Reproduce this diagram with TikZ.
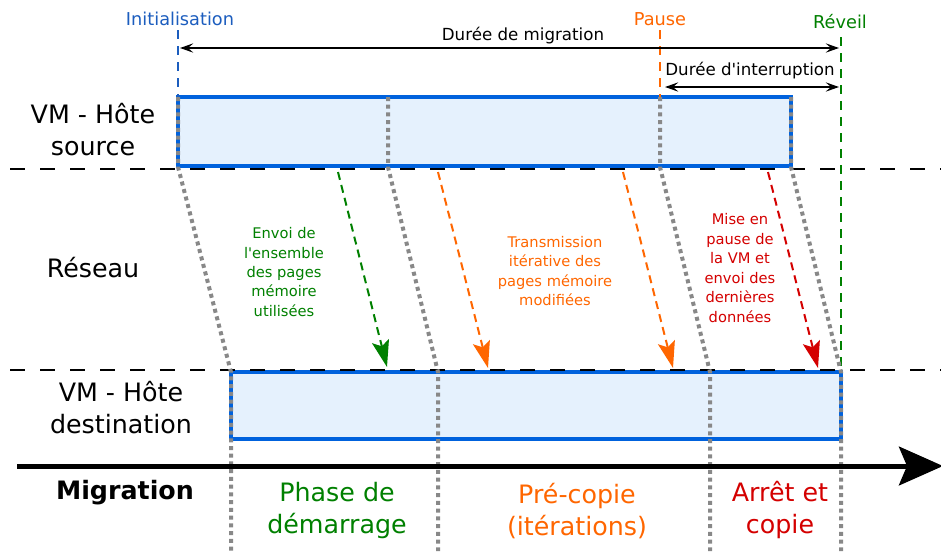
\documentclass[tikz,border=0pt]{standalone}
\usepackage{fontspec}
\setmainfont{DejaVu Sans}[Ligatures=TeXOff]
\usepackage{xcolor}
\usepackage{tikz}
\usetikzlibrary{arrows.meta,positioning,calc}
\definecolor{vmblue}{HTML}{0062DD}
\definecolor{vmfill}{HTML}{E5F1FD}
\definecolor{initblue}{HTML}{1C5DBE}
\definecolor{pauseorange}{HTML}{FF6600}
\definecolor{wakegreen}{HTML}{008000}
\definecolor{stopred}{HTML}{D40000}
\definecolor{phasegray}{HTML}{888888}

\begin{document}
\begin{tikzpicture}[x=0.75pt,y=-0.75pt,
	vm/.style={draw=vmblue,line width=2.5pt,fill=vmfill},
	sep/.style={line width=2.2pt,dash pattern=on 11pt off 11.5pt},
	phase/.style={phasegray,line width=3pt,dash pattern=on 3pt off 2.8pt},
	event/.style={line width=2.1pt,dash pattern=on 7pt off 5pt},
	send/.style={line width=1.5pt,dash pattern=on 6pt off 4pt,-{Stealth[length=20pt,width=13pt,inset=4pt]}},
	dur/.style={line width=1.2pt,{Stealth[length=10pt,width=7pt,inset=4pt]}-{Stealth[length=10pt,width=7pt,inset=4pt]}},
	big/.style={font=\fontsize{19}{24}\selectfont,align=center},
	lab/.style={font=\fontsize{12.5}{15}\selectfont},
	info/.style={font=\fontsize{11}{14.6}\selectfont,align=center}]
	\useasboundingbox (0,0) rectangle (941,551);

	% hotes
	\draw[vm] (178,97) rectangle (791,166);
	\draw[vm] (231,372) rectangle (841,439);
	\draw[sep] (10,169)--(941,169);
	\draw[sep] (10,370)--(941,370);

	% evenements
	\node[lab,initblue,font=\fontsize{13.3}{15}\selectfont] (init) at (180,19) {Initialisation};
	\node[lab,pauseorange,font=\fontsize{13.3}{15}\selectfont] (pause) at (660,19) {Pause};
	\node[lab,wakegreen,font=\fontsize{13.3}{15}\selectfont] (wake) at (840,22) {Réveil};
	\coordinate (i0) at (178,30); \coordinate (i1) at (178,97);
	\coordinate (p0) at (660,30); \coordinate (p1) at (660,97);
	\coordinate (w0) at (841,37); \coordinate (w1) at (841,370);
	\draw[event,initblue] (i0)--(i1);
	\draw[event,pauseorange] (p0)--(p1);
	\draw[event,wakegreen] (w0)--(w1);

	% durees
	\coordinate (m0) at (180,48); \coordinate (m1) at (839,48);
	\coordinate (d0) at (665,87); \coordinate (d1) at (839,87);
	\draw[dur] (m0)--(m1);
	\draw[dur] (d0)--(d1);
	\node[lab] (mig) at (523,36) {Durée de migration};
	\node[lab] (intr) at (750,71) {Durée d'interruption};

	% phases
	\draw[phase] (178,97)--(178,167)--(231,372)--(231,551);
	\draw[phase] (388,97)--(388,167)--(438,372)--(438,551);
	\draw[phase] (660,97)--(660,167)--(710,372)--(710,551);
	\draw[phase] (791,97)--(791,167)--(841,372)--(841,551);

	% envois
	\coordinate (g0) at (338,172); \coordinate (g1) at (387,367);
	\coordinate (o0) at (438,172); \coordinate (o1) at (488,368);
	\coordinate (q0) at (623,172); \coordinate (q1) at (673,368);
	\coordinate (r0) at (768,172); \coordinate (r1) at (818,368);
	\draw[send,wakegreen] (g0)--(g1);
	\draw[send,pauseorange] (o0)--(o1);
	\draw[send,pauseorange] (q0)--(q1);
	\draw[send,stopred] (r0)--(r1);
	\node[info,wakegreen] (envoi) at (284,272) {Envoi de\\l'ensemble\\des pages\\mémoire\\utilisées};
	\node[info,pauseorange] (trans) at (555,271) {Transmission\\itérative des\\pages mémoire\\modifiées};
	\node[info,stopred] (mise) at (740,268) {Mise en\\pause de\\la VM et\\envoi des\\dernières\\données};

	% legendes
	\node[big] (src) at (93,130) {VM - Hôte\\source};
	\node[big] (net) at (93,268) {Réseau};
	\node[big] (dst) at (121,408) {VM - Hôte\\destination};

	% axe
	\coordinate (t0) at (17,466); \coordinate (t1) at (943,466);
	\draw[line width=3.75pt,-{Stealth[length=33pt,width=29pt,inset=6pt]}] (t0)--(t1);
	\node[big,font=\fontsize{19}{24}\selectfont\bfseries] (axe) at (125,493) {Migration};
	\node[big,wakegreen] (demar) at (337,510) {Phase de\\démarrage};
	\node[big,pauseorange] (precop) at (577,511) {Pré-copie\\(itérations)};
	\node[big,stopred] (arret) at (780,510) {Arrêt et\\copie};
\end{tikzpicture}
\end{document}
